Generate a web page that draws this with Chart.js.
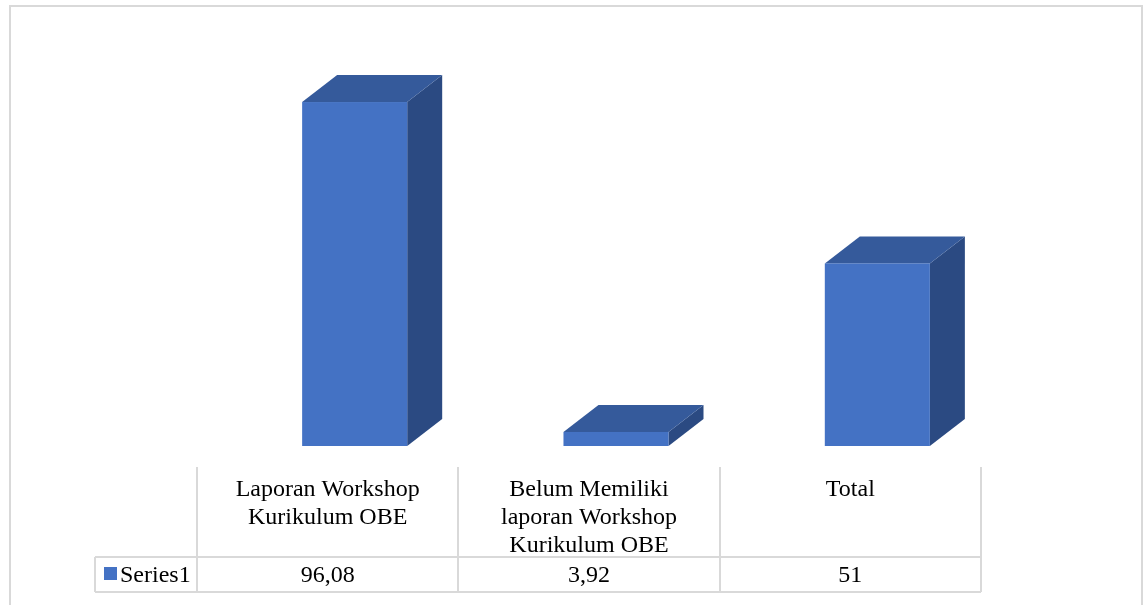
<!DOCTYPE html>
<html>
<head>
<meta charset="utf-8">
<script src="https://cdn.jsdelivr.net/npm/chart.js@4/dist/chart.umd.min.js"></script>
<style>
html,body{margin:0;padding:0;background:#fff;}
#wrap{position:relative;width:1146px;height:605px;}
</style>
</head>
<body>
<div id="wrap"><canvas id="c" width="1146" height="605"></canvas></div>
<script>
const categories = [
  ["Laporan Workshop", "Kurikulum OBE"],
  ["Belum Memiliki", "laporan Workshop", "Kurikulum OBE"],
  ["Total"]
];
const seriesName = "Series1";
const values = [96.08, 3.92, 51];

const FRONT = "#4472c4", TOP = "#355a9b", SIDE = "#2b4a82";
const GRID = "#d9d9d9";
const FONT = "24px 'Liberation Serif', 'Times New Roman', serif";

const fmt = v => String(v).replace(".", ",");

const bars3d = {
  id: "bars3d",
  afterDatasetsDraw(chart) {
    const ctx = chart.ctx;
    const meta = chart.getDatasetMeta(0);
    const shift = 27, dx = 35, dy = -27;
    ctx.save();
    meta.data.forEach(el => {
      const p = el.getProps(["x", "y", "base", "width"], true);
      const l = p.x - p.width / 2 + shift, r = p.x + p.width / 2 + shift;
      const t = p.y, b = p.base;
      // side
      ctx.fillStyle = SIDE;
      ctx.beginPath();
      ctx.moveTo(r, t); ctx.lineTo(r + dx, t + dy); ctx.lineTo(r + dx, b + dy); ctx.lineTo(r, b);
      ctx.closePath(); ctx.fill();
      // top
      ctx.fillStyle = TOP;
      ctx.beginPath();
      ctx.moveTo(l, t); ctx.lineTo(l + dx, t + dy); ctx.lineTo(r + dx, t + dy); ctx.lineTo(r, t);
      ctx.closePath(); ctx.fill();
      // front
      ctx.fillStyle = FRONT;
      ctx.fillRect(l, t, r - l, b - t);
    });
    ctx.restore();
  },
  afterDraw(chart) {
    const ctx = chart.ctx;
    const area = chart.chartArea;
    const x = chart.scales.x;
    const n = categories.length;
    const colW = (area.right - area.left) / n;
    const headTop = 467, rowTop = 557, rowBot = 592, legLeft = 95;
    ctx.save();
    // outer border
    ctx.strokeStyle = GRID; ctx.lineWidth = 2;
    ctx.strokeRect(10, 6, 1132, 640);
    // table lines
    ctx.beginPath();
    for (let i = 0; i <= n; i++) {
      const px = Math.round(x.getPixelForValue(0) - colW / 2 + i * colW);
      ctx.moveTo(px, headTop); ctx.lineTo(px, rowBot);
    }
    ctx.moveTo(legLeft, rowTop); ctx.lineTo(legLeft, rowBot);
    ctx.moveTo(legLeft, rowTop); ctx.lineTo(area.right, rowTop);
    ctx.moveTo(legLeft, rowBot); ctx.lineTo(area.right, rowBot);
    ctx.stroke();
    // text
    ctx.fillStyle = "#000";
    ctx.font = FONT;
    ctx.textAlign = "center";
    ctx.textBaseline = "middle";
    categories.forEach((lines, i) => {
      const cx = x.getPixelForValue(i);
      lines.forEach((s, j) => ctx.fillText(s, cx, 490 + j * 28));
      ctx.fillText(fmt(values[i]), cx, 576);
    });
    // legend key
    ctx.fillStyle = FRONT;
    ctx.fillRect(104, 567, 13, 13);
    ctx.fillStyle = "#000";
    ctx.textAlign = "left";
    ctx.fillText(seriesName, 120, 576);
    ctx.restore();
  }
};

new Chart(document.getElementById("c"), {
  type: "bar",
  data: {
    labels: categories,
    datasets: [{
      label: seriesName,
      data: values,
      backgroundColor: "rgba(0,0,0,0)",
      borderWidth: 0,
      barPercentage: 0.402,
      categoryPercentage: 1
    }]
  },
  options: {
    responsive: false,
    animation: false,
    layout: { padding: { left: 197, right: 165, top: 88, bottom: 159 } },
    plugins: { legend: { display: false }, tooltip: { enabled: false } },
    scales: {
      x: { display: false, offset: true },
      y: { display: false, min: 0, max: 100 }
    }
  },
  plugins: [bars3d]
});
</script>
</body>
</html>
